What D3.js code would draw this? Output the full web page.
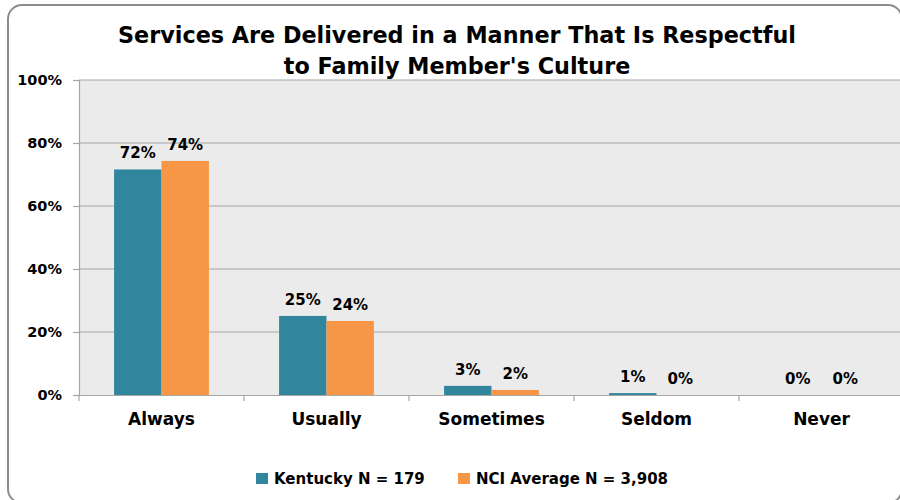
<!DOCTYPE html>
<html>
<head>
<meta charset="utf-8">
<script src="https://cdn.jsdelivr.net/npm/d3@7"></script>
<style>
  html, body { margin: 0; padding: 0; background: #ffffff; overflow: hidden; }
  svg { display: block; }
  text { font-family: "DejaVu Sans", sans-serif; font-weight: bold; fill: #000; }
</style>
</head>
<body>
<svg id="chart" width="900" height="500"></svg>
<script>
const titleLines = ["Services Are Delivered in a Manner That Is Respectful", "to Family Member's Culture"];
const categories = ["Always", "Usually", "Sometimes", "Seldom", "Never"];
const seriesNames = ["Kentucky N = 179", "NCI Average N = 3,908"];
const kentucky = [71.6, 25.1, 2.9, 0.6, 0];
const nciAverage = [74.3, 23.5, 1.6, 0, 0];
const yTicks = [0, 20, 40, 60, 80, 100];
const colors = ["#31859c", "#f79646"];

const svg = d3.select("#chart");
const plot = { left: 79, right: 904, top: 80, bottom: 395 };

// outer chart border (extends past right and bottom edges of the image)
svg.append("rect")
  .attr("x", 8).attr("y", 5).attr("width", 894).attr("height", 498)
  .attr("rx", 14).attr("ry", 14)
  .attr("fill", "#ffffff").attr("stroke", "#8c8c8c").attr("stroke-width", 2);

// title
svg.append("text").attr("x", 457).attr("y", 43).attr("text-anchor", "middle")
  .style("font-size", "22.3px").text(titleLines[0]);
svg.append("text").attr("x", 457).attr("y", 74).attr("text-anchor", "middle")
  .style("font-size", "22.3px").text(titleLines[1]);

const x = d3.scaleBand().domain(categories).range([plot.left, plot.right]).paddingInner(0).paddingOuter(0);
const x1 = d3.scaleBand().domain(seriesNames).range([0, x.bandwidth()]).paddingInner(0).paddingOuter(0.74);
const y = d3.scaleLinear().domain([0, 100]).range([plot.bottom, plot.top]);

// plot area background
svg.append("rect")
  .attr("x", plot.left).attr("y", plot.top)
  .attr("width", plot.right - plot.left).attr("height", plot.bottom - plot.top)
  .attr("fill", "#ebebeb");

// gridlines
svg.append("g").selectAll("line").data(yTicks.filter(d => d > 0)).join("line")
  .attr("x1", plot.left).attr("x2", plot.right)
  .attr("y1", d => y(d)).attr("y2", d => y(d))
  .attr("stroke", "#a6a6a6").attr("stroke-width", 1.2);

// y axis
const yAxis = d3.axisLeft(y).tickValues(yTicks).tickFormat(d => d + "%").tickSize(6).tickPadding(11);
const gy = svg.append("g").attr("transform", `translate(${plot.left},0)`).call(yAxis);
gy.select(".domain").attr("stroke", "#a6a6a6").attr("stroke-width", 1.2);
gy.selectAll(".tick line").attr("stroke", "#a6a6a6").attr("stroke-width", 1.2);
gy.selectAll(".tick text").style("font-size", "14.5px").style("font-family", "DejaVu Sans").style("font-weight", "bold").attr("fill", "#000");

// x axis
const xAxis = d3.axisBottom(x).tickSize(0).tickPadding(18);
const gx = svg.append("g").attr("transform", `translate(0,${plot.bottom})`).call(xAxis);
gx.select(".domain").attr("stroke", "#a6a6a6").attr("stroke-width", 1.2);
gx.selectAll(".tick text").style("font-size", "17px").style("font-family", "DejaVu Sans").style("font-weight", "bold").attr("fill", "#000");
// category boundary ticks
svg.append("g").selectAll("line").data(categories).join("line")
  .attr("x1", d => x(d)).attr("x2", d => x(d))
  .attr("y1", plot.bottom).attr("y2", plot.bottom + 6)
  .attr("stroke", "#a6a6a6").attr("stroke-width", 1.2);

// bars
const data = categories.map((c, i) => ({ cat: c, vals: [
  { s: seriesNames[0], v: kentucky[i], c: colors[0] },
  { s: seriesNames[1], v: nciAverage[i], c: colors[1] }
]}));

const groups = svg.append("g").selectAll("g").data(data).join("g")
  .attr("transform", d => `translate(${x(d.cat)},0)`);

groups.selectAll("rect").data(d => d.vals).join("rect")
  .attr("x", d => x1(d.s)).attr("width", x1.bandwidth())
  .attr("y", d => y(d.v)).attr("height", d => y(0) - y(d.v))
  .attr("fill", d => d.c);

groups.selectAll("text").data(d => d.vals).join("text")
  .attr("x", d => x1(d.s) + x1.bandwidth() / 2)
  .attr("y", d => y(d.v) - 11)
  .attr("text-anchor", "middle")
  .style("font-size", "15px")
  .text(d => Math.round(d.v) + "%");

// legend
const legendX = [256, 458];
const lg = svg.append("g").selectAll("g").data(seriesNames).join("g")
  .attr("transform", (d, i) => `translate(${legendX[i]},473)`);
lg.append("rect").attr("width", 12).attr("height", 11).attr("fill", (d, i) => colors[i]);
lg.append("text").attr("x", 18).attr("y", 11).style("font-size", "15px").text(d => d);
</script>
</body>
</html>
